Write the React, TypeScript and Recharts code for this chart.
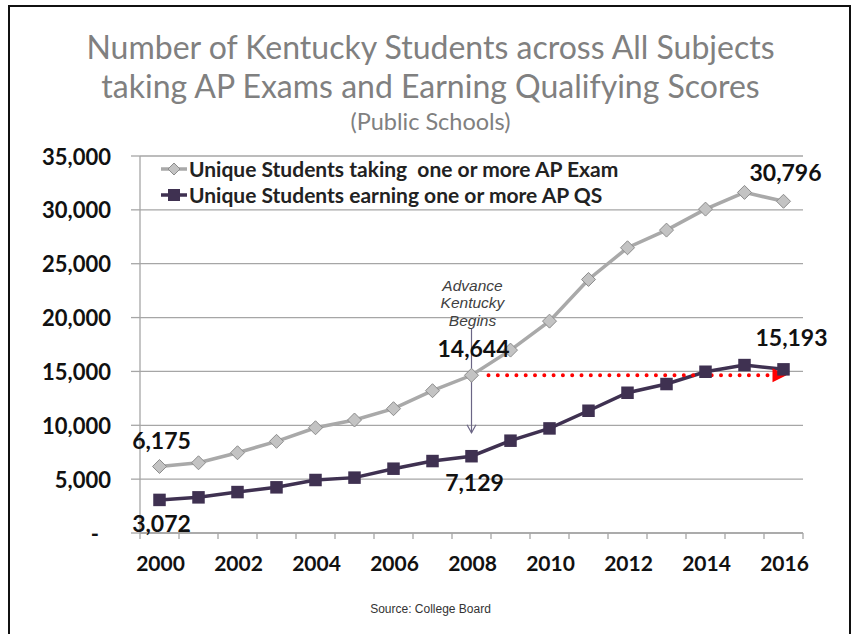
import React from 'react';
import {
  LineChart,
  Line,
  XAxis,
  YAxis,
  CartesianGrid,
  ReferenceLine,
  LabelList,
  Legend,
} from 'recharts';

// ---------- data ----------
const years = ['2000', '2001', '2002', '2003', '2004', '2005', '2006', '2007', '2008', '2009', '2010', '2011', '2012', '2013', '2014', '2015', '2016'];
const takingAP = [6175, 6520, 7450, 8510, 9770, 10490, 11540, 13210, 14644, 16980, 19670, 23540, 26480, 28120, 30070, 31620, 30796];
const earningQS = [3072, 3310, 3800, 4240, 4920, 5140, 5970, 6680, 7129, 8570, 9710, 11350, 13020, 13830, 14970, 15590, 15193];
const yTicks = [0, 5000, 10000, 15000, 20000, 25000, 30000, 35000];
const labeledIdx = [0, 8, 16];
const seriesNames = ['Unique Students taking\u00a0 one or more AP Exam', 'Unique Students earning one or more AP QS'];
const programYear = '2008';
const programLevel = 14644;
const annotTop = 19000;
const annotBottom = 9300;
const annotText = ['Advance', 'Kentucky', 'Begins'];
const titleLines = ['Number of Kentucky Students across All Subjects', 'taking AP Exams and Earning Qualifying Scores'];
const subtitle = '(Public Schools)';
const source = 'Source: College Board';

const data = years.map((y, i) => ({ year: y, taking: takingAP[i], earning: earningQS[i] }));

// ---------- style ----------
const BOLD_FONT = 'Lato, "Open Sans", sans-serif';
const GRAY_LINE = '#a9a9a9';
const PURPLE = '#3f3151';
const AXIS = '#a6a6a6';

const fmt = (v: number) => v.toLocaleString('en-US');

const Diamond = (props: any) => {
  const { cx, cy } = props;
  if (cx == null || cy == null) return null;
  const r = 7;
  return (
    <polygon
      points={`${cx},${cy - r} ${cx + r},${cy} ${cx},${cy + r} ${cx - r},${cy}`}
      fill="#c3c3c3"
      stroke="#8c8c8c"
      strokeWidth={1}
    />
  );
};

const Square = (props: any) => {
  const { cx, cy } = props;
  if (cx == null || cy == null) return null;
  const s = 12.5;
  return <rect x={cx - s / 2} y={cy - s / 2} width={s} height={s} fill={PURPLE} />;
};

// label offsets per series and labeled index (style)
const takingLabelOffset: Record<number, [number, number]> = { 0: [2, -26], 8: [2, -27], 16: [2, -29] };
const earningLabelOffset: Record<number, [number, number]> = { 0: [2, 23], 8: [3, 26], 16: [8, -32] };

const makeLabel = (offsets: Record<number, [number, number]>) => (props: any) => {
  const { x, y, index, value } = props;
  if (!labeledIdx.includes(index)) return null;
  const [dx, dy] = offsets[index];
  return (
    <text
      x={x + dx}
      y={y + dy}
      textAnchor="middle"
      dominantBaseline="central"
      fontFamily={BOLD_FONT}
      fontWeight={700}
      fontSize={23}
      fill="#111"
    >
      {fmt(value)}
    </text>
  );
};

const YTick = (props: any) => {
  const { x, y, payload } = props;
  const v = payload.value;
  return (
    <text
      x={v === 0 ? x - 12 : x}
      y={y}
      textAnchor="end"
      dominantBaseline="central"
      fontFamily={BOLD_FONT}
      fontWeight={700}
      fontSize={22}
      fill="#111"
    >
      {v === 0 ? '-' : fmt(v)}
    </text>
  );
};

const XTick = (props: any) => {
  const { x, y, payload, index } = props;
  const off = payload && typeof payload.offset === 'number' && payload.offset > 0 ? payload.offset : 19.5;
  const last = index === years.length - 1;
  const showLabel = index % 2 === 0;
  return (
    <g>
      <line x1={x - off} y1={y} x2={x - off} y2={y + 6} stroke={AXIS} strokeWidth={1.3} />
      {last && <line x1={x + off} y1={y} x2={x + off} y2={y + 6} stroke={AXIS} strokeWidth={1.3} />}
      {showLabel && (
        <text
          x={x + 1}
          y={y + 29}
          textAnchor="middle"
          dominantBaseline="central"
          fontFamily={BOLD_FONT}
          fontWeight={700}
          fontSize={21}
          fill="#111"
        >
          {payload.value}
        </text>
      )}
    </g>
  );
};

const RedArrow = (props: any) => {
  const { x1, y1, x2, y2 } = props;
  if (x1 == null) return null;
  return (
    <g>
      <line
        x1={x1 + 17}
        y1={y1}
        x2={x2 - 14}
        y2={y2}
        stroke="#ff0000"
        strokeWidth={4}
        strokeLinecap="round"
        strokeDasharray="0 9.3"
      />
      <polygon points={`${x2 + 3},${y2} ${x2 - 11},${y2 - 7} ${x2 - 11},${y2 + 7}`} fill="#ff0000" />
    </g>
  );
};

const StartMarker = (props: any) => {
  const { x1, y1, x2, y2 } = props;
  if (x1 == null) return null;
  const c = '#6b6585';
  return (
    <g>
      <line x1={x1} y1={y1} x2={x2} y2={y2} stroke={c} strokeWidth={1.2} />
      <polyline points={`${x2 - 4.5},${y2 - 8} ${x2},${y2} ${x2 + 4.5},${y2 - 8}`} fill="none" stroke={c} strokeWidth={1.2} />
      {annotText.map((t, i) => (
        <text
          key={t}
          x={x1 + 1}
          y={y1 - 43 + i * 17.5}
          textAnchor="middle"
          dominantBaseline="central"
          fontFamily='"Liberation Sans", Arial, sans-serif'
          fontStyle="italic"
          fontSize={15.5}
          fill="#404040"
        >
          {t}
        </text>
      ))}
    </g>
  );
};

const LegendContent = () => (
  <div style={{ fontFamily: BOLD_FONT, fontWeight: 700, fontSize: 21, color: '#222', lineHeight: '26px' }}>
    {seriesNames.map((n, i) => (
      <div key={n} style={{ display: 'flex', alignItems: 'center', height: 26, whiteSpace: 'pre' }}>
        <svg width={28} height={20} style={{ marginRight: 1 }}>
          <line x1={1} y1={10} x2={27} y2={10} stroke={i === 0 ? GRAY_LINE : PURPLE} strokeWidth={3.5} />
          {i === 0 ? (
            <polygon points="14,4 20,10 14,16 8,10" fill="#c3c3c3" stroke="#8c8c8c" strokeWidth={1} />
          ) : (
            <rect x={8} y={4} width={12} height={12} fill={PURPLE} />
          )}
        </svg>
        <span>{n}</span>
      </div>
    ))}
  </div>
);

export default function App() {
  return (
    <div style={{ position: 'absolute', left: 0, top: 0, width: 851, height: 634, background: '#fff', overflow: 'hidden' }}>
      <div
        style={{
          position: 'absolute',
          left: 8,
          top: 5,
          width: 839,
          height: 640,
          borderLeft: '2px solid #111',
          borderTop: '2px solid #111',
          borderRight: '2px solid #111',
        }}
      />
      <div
        style={{
          position: 'absolute',
          left: 0,
          top: 0,
          width: 861,
          textAlign: 'center',
          fontFamily: 'Lato, "Open Sans", sans-serif',
          color: '#808080',
        }}
      >
        <div style={{ position: 'absolute', top: 27, width: '100%', fontSize: 32, lineHeight: '40px' }}>{titleLines[0]}</div>
        <div style={{ position: 'absolute', top: 66, width: '100%', fontSize: 32, lineHeight: '40px' }}>{titleLines[1]}</div>
        <div style={{ position: 'absolute', top: 107, width: '100%', fontSize: 23.5, lineHeight: '28px' }}>{subtitle}</div>
      </div>
      <div style={{ position: 'absolute', left: 0, top: 0 }}>
        <LineChart width={851} height={634} data={data} margin={{ top: 156, right: 48, bottom: 41, left: 80 }}>
          <CartesianGrid vertical={false} stroke={AXIS} strokeWidth={1.3} />
          <XAxis
            dataKey="year"
            scale="band"
            interval={0}
            height={60}
            tickLine={false}
            tickSize={0}
            tickMargin={0}
            axisLine={{ stroke: AXIS, strokeWidth: 1.3 }}
            tick={<XTick />}
          />
          <YAxis
            domain={[0, 35000]}
            ticks={yTicks}
            width={60}
            tickSize={9}
            tickMargin={20}
            tickLine={{ stroke: AXIS, strokeWidth: 1.3 }}
            axisLine={{ stroke: AXIS, strokeWidth: 1.3 }}
            tick={<YTick />}
          />
          <Legend
            layout="vertical"
            align="center"
            verticalAlign="middle"
            content={<LegendContent />}
            wrapperStyle={{ top: 156, left: 160, width: 'auto' }}
          />
          <ReferenceLine
            segment={[{ x: programYear, y: annotTop }, { x: programYear, y: annotBottom }]}
            shape={<StartMarker />}
          />
          <Line
            type="linear"
            dataKey="taking"
            name={seriesNames[0]}
            stroke={GRAY_LINE}
            strokeWidth={3.5}
            dot={<Diamond />}
            activeDot={false}
            isAnimationActive={false}
          >
            <LabelList dataKey="taking" content={makeLabel(takingLabelOffset)} />
          </Line>
          <Line
            type="linear"
            dataKey="earning"
            name={seriesNames[1]}
            stroke={PURPLE}
            strokeWidth={3.5}
            dot={<Square />}
            activeDot={false}
            isAnimationActive={false}
          >
            <LabelList dataKey="earning" content={makeLabel(earningLabelOffset)} />
          </Line>
          <ReferenceLine
            segment={[{ x: programYear, y: programLevel }, { x: years[years.length - 1], y: programLevel }]}
            shape={<RedArrow />}
          />
        </LineChart>
      </div>
      <div
        style={{
          position: 'absolute',
          left: 0,
          top: 602,
          width: 861,
          textAlign: 'center',
          fontFamily: '"Liberation Sans", Arial, sans-serif',
          fontSize: 12,
          color: '#333',
        }}
      >
        {source}
      </div>
    </div>
  );
}
